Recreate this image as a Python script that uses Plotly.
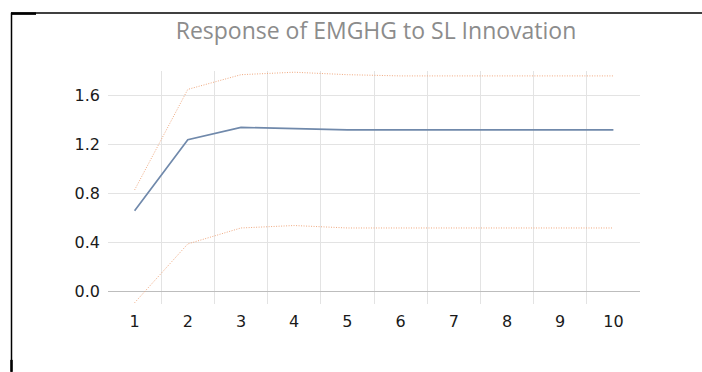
import plotly.graph_objects as go

# Impulse response of EMGHG to an SL shock, with its upper and lower bands
periods = [1, 2, 3, 4, 5, 6, 7, 8, 9, 10]
response = [0.66, 1.24, 1.34, 1.33, 1.32, 1.32, 1.32, 1.32, 1.32, 1.32]
upper_band = [0.83, 1.65, 1.77, 1.79, 1.77, 1.76, 1.76, 1.76, 1.76, 1.76]
lower_band = [-0.09, 0.39, 0.52, 0.54, 0.52, 0.52, 0.52, 0.52, 0.52, 0.52]
y_ticks = [0.0, 0.4, 0.8, 1.2, 1.6]
y_tick_text = ["0.0", "0.4", "0.8", "1.2", "1.6"]

W, H = 702, 372
L, R, T, B = 108, 62, 70.5, 68
pw, ph = W - L - R, H - T - B


def px_x(x):
    return (x - L) / pw


def px_y(y):
    return (H - B - y) / ph


fig = go.Figure()
band_style = dict(color="#f0a97f", width=1, dash="1px,1.5px")
fig.add_trace(go.Scatter(x=periods, y=upper_band, mode="lines", line=band_style,
                         hoverinfo="skip", showlegend=False))
fig.add_trace(go.Scatter(x=periods, y=lower_band, mode="lines", line=band_style,
                         hoverinfo="skip", showlegend=False))
fig.add_trace(go.Scatter(x=periods, y=response, mode="lines",
                         line=dict(color="#7089ab", width=1.7), showlegend=False))

title_font = "Open Sans, Noto Sans, sans-serif"
tick_font = "DejaVu Sans, sans-serif"

fig.update_layout(
    width=W, height=H,
    margin=dict(l=L, r=R, t=T, b=B, pad=0),
    paper_bgcolor="white",
    plot_bgcolor="white",
    title=dict(text="Response of EMGHG to SL Innovation",
               x=(175 + 577) / 2 / W, xanchor="center",
               y=1 - 31 / H, yanchor="middle",
               font=dict(family=title_font, size=23, color="#8c8c8c")),
    xaxis=dict(range=[0.5, 10.5], tickmode="array", tickvals=periods,
               ticktext=[str(p) for p in periods], showgrid=False,
               zeroline=False, showline=False, ticks="",
               ticklabelstandoff=6,
               tickfont=dict(family=tick_font, size=16, color="#1a1a1a"),
               minor=dict(tickmode="array",
                          tickvals=[p + 0.5 for p in periods[:-1]],
                          showgrid=True, gridcolor="#e3e3e3", gridwidth=1,
                          ticks="")),
    yaxis=dict(range=[-0.1, 1.8], tickmode="array", tickvals=y_ticks,
               ticktext=y_tick_text, showgrid=True, gridcolor="#e3e3e3",
               gridwidth=1, zeroline=True, zerolinecolor="#bdbdbd",
               zerolinewidth=1, showline=False, ticks="",
               ticklabelstandoff=7,
               tickfont=dict(family=tick_font, size=16, color="#1a1a1a")),
    shapes=[
        # outer frame strokes along the top and left edges
        dict(type="line", xref="paper", yref="paper",
             x0=px_x(11), x1=px_x(702), y0=px_y(12.5), y1=px_y(12.5),
             line=dict(color="black", width=1.5)),
        dict(type="line", xref="paper", yref="paper",
             x0=px_x(11), x1=px_x(36), y0=px_y(13), y1=px_y(13),
             line=dict(color="black", width=2.5)),
        dict(type="line", xref="paper", yref="paper",
             x0=px_x(11.5), x1=px_x(11.5), y0=px_y(12), y1=px_y(372),
             line=dict(color="black", width=1.5)),
        dict(type="line", xref="paper", yref="paper",
             x0=px_x(11.5), x1=px_x(11.5), y0=px_y(360), y1=px_y(372),
             line=dict(color="black", width=2.5)),
    ],
)

fig.write_html("out.html")
